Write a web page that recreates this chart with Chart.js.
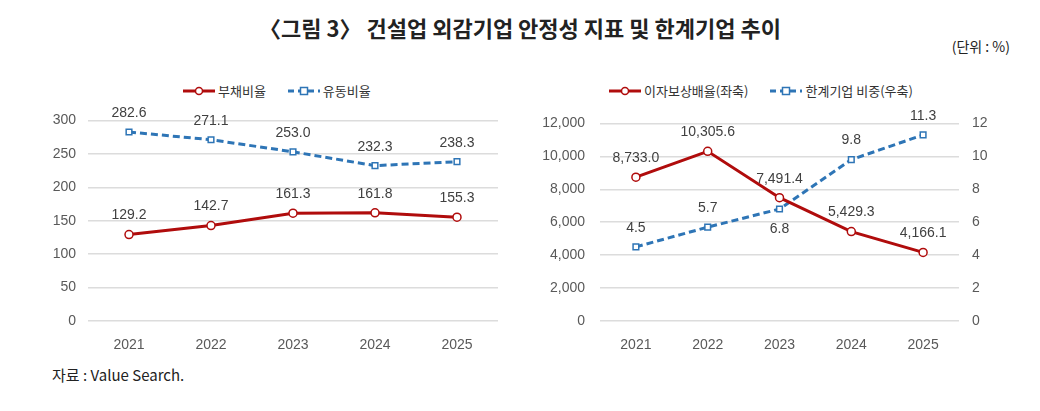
<!DOCTYPE html>
<html>
<head>
<meta charset="utf-8">
<script src="https://cdn.jsdelivr.net/npm/chart.js@4"></script>
<style>
  body { margin: 0; background: #fff; width: 1040px; height: 411px; position: relative; overflow: hidden;
         font-family: 'Liberation Sans', 'Noto Sans CJK KR', sans-serif; color: #222; }
  #title { position: absolute; top: 11px; left: 0; width: 1040px; text-align: center;
           font-family: 'Noto Sans CJK KR', sans-serif; font-weight: bold; font-size: 22px; }
  #unit { position: absolute; top: 36px; right: 30px; font-size: 14px; font-family: 'Noto Sans CJK KR', sans-serif; }
  #source { position: absolute; top: 364px; left: 52px; font-size: 15px; font-family: 'Noto Sans CJK KR', sans-serif; }
  .box { position: absolute; top: 100px; width: 520px; height: 260px; }
  .legend { position: absolute; top: 81px; font-size: 13px; font-family: 'Noto Sans CJK KR', sans-serif; color: #333;
            display: flex; align-items: center; white-space: nowrap; }
  .legend svg { margin-right: 3px; }
  .legend span { margin-right: 22px; }
</style>
</head>
<body>
<div id="title">〈그림 3〉 건설업 외감기업 안정성 지표 및 한계기업 추이</div>
<div id="unit">(단위 : %)</div>

<div class="legend" style="left:183px">
  <svg width="32" height="12"><line x1="0" y1="6" x2="32" y2="6" stroke="#b00c0c" stroke-width="3"/><circle cx="16" cy="6" r="3.5" fill="#fff" stroke="#b00c0c" stroke-width="1.5"/></svg><span>부채비율</span>
  <svg width="32" height="12"><line x1="0" y1="6" x2="32" y2="6" stroke="#2e75b6" stroke-width="3" stroke-dasharray="6,4"/><rect x="12.5" y="2.5" width="7" height="7" fill="#fff" stroke="#2e75b6" stroke-width="1.5"/></svg><span>유동비율</span>
</div>
<div class="legend" style="left:609px">
  <svg width="32" height="12"><line x1="0" y1="6" x2="32" y2="6" stroke="#b00c0c" stroke-width="3"/><circle cx="16" cy="6" r="3.5" fill="#fff" stroke="#b00c0c" stroke-width="1.5"/></svg><span>이자보상배율(좌축)</span>
  <svg width="32" height="12"><line x1="0" y1="6" x2="32" y2="6" stroke="#2e75b6" stroke-width="3" stroke-dasharray="6,4"/><rect x="12.5" y="2.5" width="7" height="7" fill="#fff" stroke="#2e75b6" stroke-width="1.5"/></svg><span>한계기업 비중(우축)</span>
</div>

<div class="box" style="left:0"><canvas id="leftChart"></canvas></div>
<div class="box" style="left:520px"><canvas id="rightChart"></canvas></div>

<div id="source">자료 : Value Search.</div>

<script>
// 데이터
const years = ['2021', '2022', '2023', '2024', '2025'];
const debtRatio = [129.2, 142.7, 161.3, 161.8, 155.3];        // 부채비율
const currentRatio = [282.6, 271.1, 253.0, 232.3, 238.3];     // 유동비율
const interestCoverage = [8733.0, 10305.6, 7491.4, 5429.3, 4166.1]; // 이자보상배율(좌축)
const marginalShare = [4.5, 5.7, 6.8, 9.8, 11.3];             // 한계기업 비중(우축)

const RED = '#b00c0c';
const BLUE = '#2e75b6';
const GRID = '#dcdcdc';
const TICK = '#595959';
const FONT = "'Liberation Sans', 'Noto Sans CJK KR', sans-serif";

// 점 위에 값 표시
const valueLabels = {
    id: 'valueLabels',
    afterDatasetsDraw(chart) {
        const ctx = chart.ctx;
        ctx.save();
        ctx.font = '14px ' + FONT;
        ctx.fillStyle = '#404040';
        ctx.textAlign = 'center';
        ctx.textBaseline = 'middle';
        chart.data.datasets.forEach((ds, i) => {
            chart.getDatasetMeta(i).data.forEach((pt, j) => {
                const below = ds.labelBelow && ds.labelBelow.includes(j);
                const txt = ds.data[j].toLocaleString('en-US', { minimumFractionDigits: 1, maximumFractionDigits: 1 });
                ctx.fillText(txt, pt.x, pt.y + (below ? 20 : -19));
            });
        });
        ctx.restore();
    }
};

function lineSet(label, data, color, dashed, extra) {
    return Object.assign({
        label: label,
        data: data,
        borderColor: color,
        borderWidth: 3,
        borderDash: dashed ? [7, 4] : [],
        pointStyle: dashed ? 'rect' : 'circle',
        pointRadius: 4,
        pointBackgroundColor: '#fff',
        pointBorderColor: color,
        pointBorderWidth: 1.5,
        tension: 0
    }, extra || {});
}

function yAxis(min, max, step, width, position, padding, grid) {
    return {
        position: position,
        min: min, max: max,
        afterFit: s => { s.width = width; },
        border: { display: false },
        grid: { display: grid, color: GRID, lineWidth: 1.5, drawTicks: false },
        ticks: {
            stepSize: step, padding: padding, color: TICK,
            font: { size: 14, family: FONT },
            callback: v => v.toLocaleString('en-US')
        }
    };
}

const xAxis = {
    offset: true,
    afterFit: s => { s.height = 39; },
    border: { display: false },
    grid: { display: false, offset: true },
    ticks: { padding: 8, color: TICK, font: { size: 14, family: FONT } }
};

const common = {
    responsive: true,
    maintainAspectRatio: false,
    animation: false,
    plugins: { legend: { display: false }, tooltip: { enabled: false } }
};

new Chart(document.getElementById('leftChart'), {
    type: 'line',
    data: {
        labels: years,
        datasets: [
            lineSet('부채비율', debtRatio, RED, false),
            lineSet('유동비율', currentRatio, BLUE, true)
        ]
    },
    options: Object.assign({}, common, {
        layout: { padding: { top: 17, right: 22, left: 0, bottom: 0 } },
        scales: {
            x: xAxis,
            y: yAxis(0, 300, 50, 88, 'left', 12, true)
        }
    }),
    plugins: [valueLabels]
});

new Chart(document.getElementById('rightChart'), {
    type: 'line',
    data: {
        labels: years,
        datasets: [
            lineSet('이자보상배율(좌축)', interestCoverage, RED, false, { yAxisID: 'y' }),
            lineSet('한계기업 비중(우축)', marginalShare, BLUE, true, { yAxisID: 'y1', labelBelow: [2] })
        ]
    },
    options: Object.assign({}, common, {
        layout: { padding: { top: 17, right: 0, left: 0, bottom: 0 } },
        scales: {
            x: xAxis,
            y: yAxis(0, 12000, 2000, 80, 'left', 15, true),
            y1: yAxis(0, 12, 2, 81, 'right', 13, false)
        }
    }),
    plugins: [valueLabels]
});
</script>
</body>
</html>
